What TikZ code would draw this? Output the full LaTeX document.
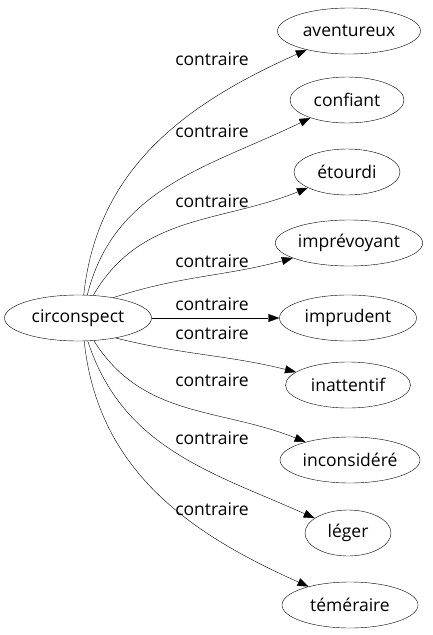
\documentclass[tikz,border=0pt]{standalone}
\usepackage{fontspec}
\setmainfont{Open Sans}
\usepackage{tikz}
\usetikzlibrary{arrows.meta,shapes.geometric}

\begin{document}
\begin{tikzpicture}[x=1pt,y=-1pt,
  word/.style={draw,ellipse,minimum height=46pt,inner xsep=1pt,font=\fontsize{17.5}{20}\selectfont},
  rel/.style={font=\fontsize{17.5}{20}\selectfont},
  link/.style={-{Triangle[length=11pt,width=8pt]}}]
\useasboundingbox (0,0) rectangle (433,635);
% nodes
\node[word,minimum width=147pt] (circ) at (78,318) {circonspect};
\node[word,minimum width=143pt] (aven) at (349,31) {aventureux};
\node[word,minimum width=114pt] (conf) at (347,100) {confiant};
\node[word,minimum width=106pt] (etou) at (347,172) {étourdi};
\node[word,minimum width=144pt] (impv) at (349,243) {imprévoyant};
\node[word,minimum width=137pt] (impr) at (348,318) {imprudent};
\node[word,minimum width=125pt] (inat) at (348,385) {inattentif};
\node[word,minimum width=140pt] (inco) at (350,460) {inconsidéré};
\node[word,minimum width=86pt] (lege) at (348,533) {léger};
\node[word,minimum width=136pt] (teme) at (350,605) {téméraire};
% edges
\draw[link] (circ.76) to[out=84,in=204] (aven);
\draw[link] (circ.68) to[out=76,in=206] (conf);
\draw[link] (circ.56) to[out=60,in=202] (etou);
\draw[link] (circ.30) to[out=18,in=195] (impv);
\draw[link] (circ) -- (impr);
\draw[link] (circ.-28) to[out=-14,in=166] (inat);
\draw[link] (circ.-55) to[out=-58,in=158] (inco);
\draw[link] (circ.-67) to[out=-72,in=156] (lege);
\draw[link] (circ.-75) to[out=-84,in=156] (teme);
% labels
\node[rel] (l1) at (212,59) {contraire};
\node[rel] (l2) at (212,131) {contraire};
\node[rel] (l3) at (212,201) {contraire};
\node[rel] (l4) at (212,261) {contraire};
\node[rel] (l5) at (212,304) {contraire};
\node[rel] (l6) at (212,333) {contraire};
\node[rel] (l7) at (212,380) {contraire};
\node[rel] (l8) at (212,438) {contraire};
\node[rel] (l9) at (212,509) {contraire};
\end{tikzpicture}
\end{document}
